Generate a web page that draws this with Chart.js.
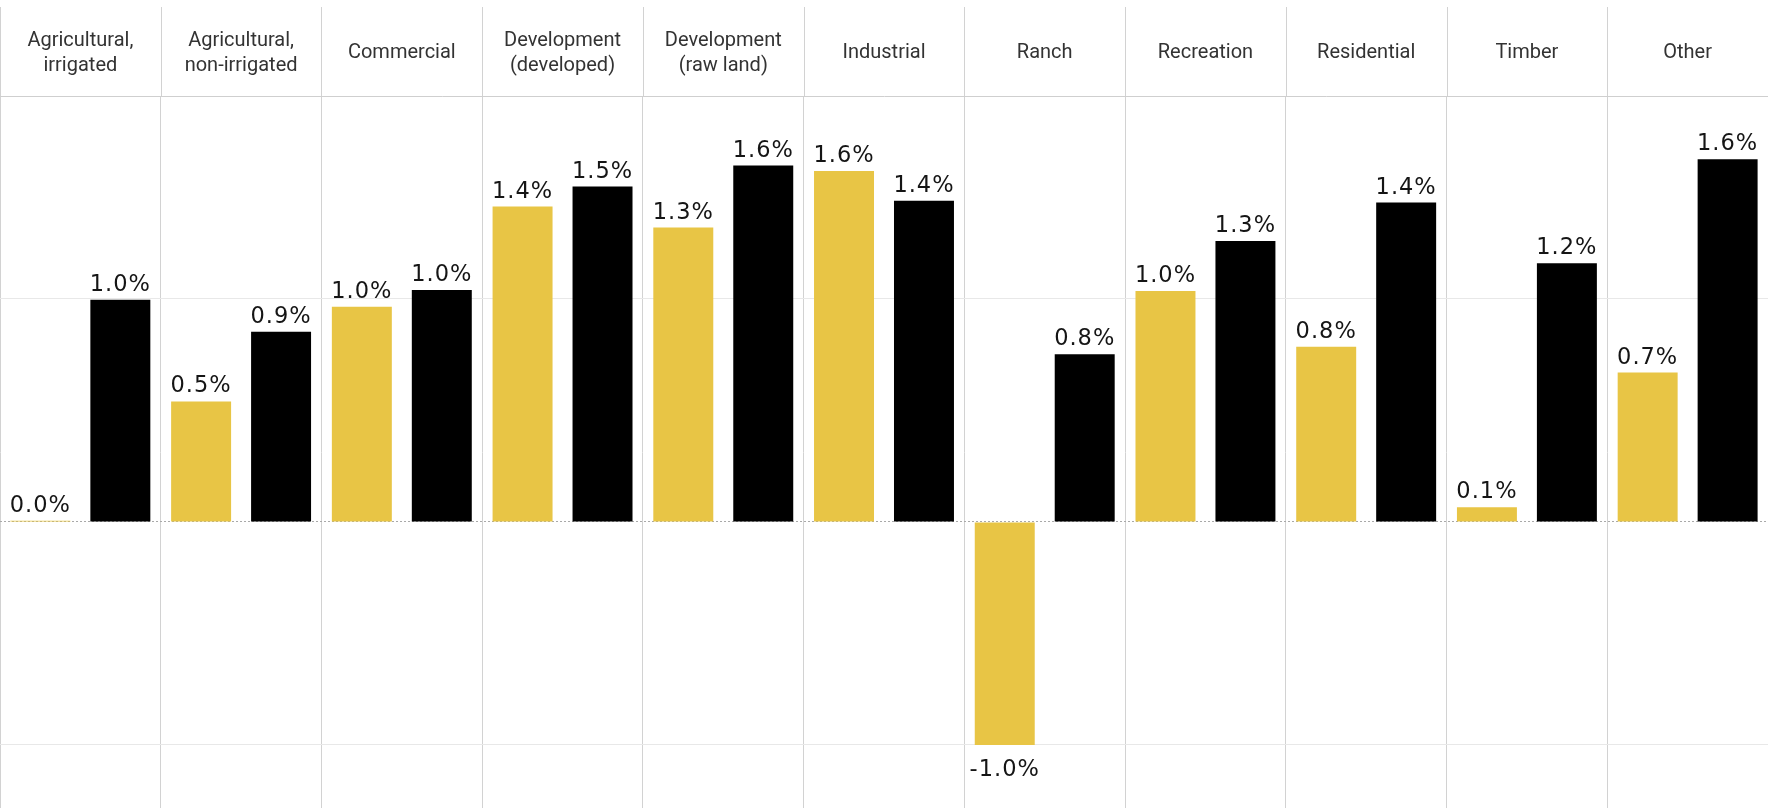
<!DOCTYPE html>
<html lang="en">
<head>
    <meta charset="UTF-8">
    <title>Land value change by property type</title>
    <script src="https://cdn.jsdelivr.net/npm/chart.js"></script>
    <style>
        html, body {
            margin: 0;
            padding: 0;
            background: #fff;
        }
        .chart-container {
            width: 1768px;
            height: 808px;
        }
    </style>
</head>
<body>
    <div class="chart-container">
        <canvas id="landChart"></canvas>
    </div>

    <script>
        // Property types, header row (multi-line where the name wraps)
        var categories = [
            ["Agricultural,", "irrigated"],
            ["Agricultural,", "non-irrigated"],
            "Commercial",
            ["Development", "(developed)"],
            ["Development", "(raw land)"],
            "Industrial",
            "Ranch",
            "Recreation",
            "Residential",
            "Timber",
            "Other"
        ];

        // Percent change, two periods per property type
        var goldValues  = [0.005, 0.54, 0.965, 1.414, 1.32, 1.574, -1.0, 1.036, 0.786, 0.066, 0.67];
        var blackValues = [0.996, 0.853, 1.04, 1.504, 1.598, 1.44, 0.752, 1.26, 1.432, 1.16, 1.626];

        // Horizontal reference lines
        var gridValues = [-1, 0, 1];

        // Percent labels above (or below) each bar
        var valueLabels = {
            id: 'valueLabels',
            afterDatasetsDraw: function (chart) {
                var ctx = chart.ctx;
                ctx.save();
                ctx.font = '22.5px "DejaVu Sans"';
                ctx.letterSpacing = '1px';
                ctx.fillStyle = '#151515';
                ctx.textAlign = 'center';
                ctx.textBaseline = 'alphabetic';
                chart.data.datasets.forEach(function (ds, i) {
                    chart.getDatasetMeta(i).data.forEach(function (bar, j) {
                        var v = ds.data[j];
                        var y = v < 0 ? bar.y + 31 : bar.y - 9;
                        ctx.fillText(v.toFixed(1) + '%', bar.x, y);
                    });
                });
                ctx.restore();
            }
        };

        // Column dividers carried up through the header row
        var headerDividers = {
            id: 'headerDividers',
            afterDraw: function (chart) {
                var xs = chart.scales.x;
                var n = chart.data.labels.length;
                var step = xs.width / n;
                var ctx = chart.ctx;
                ctx.save();
                ctx.strokeStyle = '#d2d2d2';
                ctx.lineWidth = 1;
                ctx.beginPath();
                for (var i = 0; i <= n; i++) {
                    var x = Math.round(xs.left + i * step) + 0.5;
                    ctx.moveTo(x, 7);
                    ctx.lineTo(x, chart.chartArea.top);
                }
                ctx.stroke();
                ctx.restore();
            }
        };

        var ctx = document.getElementById('landChart').getContext('2d');
        new Chart(ctx, {
            type: 'bar',
            data: {
                labels: categories,
                datasets: [
                    { label: 'gold', data: goldValues, backgroundColor: '#E8C545' },
                    { label: 'black', data: blackValues, backgroundColor: '#000000' }
                ]
            },
            options: {
                responsive: true,
                maintainAspectRatio: false,
                animation: false,
                categoryPercentage: 0.995,
                barPercentage: 0.75,
                layout: { padding: 0 },
                plugins: {
                    legend: { display: false },
                    tooltip: { enabled: false }
                },
                scales: {
                    x: {
                        position: 'top',
                        offset: true,
                        grid: {
                            offset: true,
                            color: '#d2d2d2',
                            tickColor: 'rgba(0,0,0,0)',
                            tickLength: 14.2
                        },
                        border: { color: '#cfcfcf' },
                        ticks: {
                            color: '#333',
                            font: { family: 'Roboto', size: 20, lineHeight: '25px' },
                            padding: 15.9,
                            crossAlign: 'center',
                            maxRotation: 0,
                            autoSkip: false
                        }
                    },
                    y: {
                        min: -1.283,
                        max: 1.91,
                        ticks: { display: false, stepSize: 1 },
                        grid: {
                            drawTicks: false,
                            color: function (c) {
                                if (!c.tick) return 'rgba(0,0,0,0)';
                                if (c.tick.value === 0) return '#a9a9a9';
                                return gridValues.indexOf(c.tick.value) >= 0 ? '#e8e8e8' : 'rgba(0,0,0,0)';
                            }
                        },
                        border: {
                            display: false,
                            dash: function (c) {
                                return c.tick && c.tick.value === 0 ? [2, 2] : [];
                            }
                        }
                    }
                }
            },
            plugins: [valueLabels, headerDividers]
        });
    </script>
</body>
</html>
